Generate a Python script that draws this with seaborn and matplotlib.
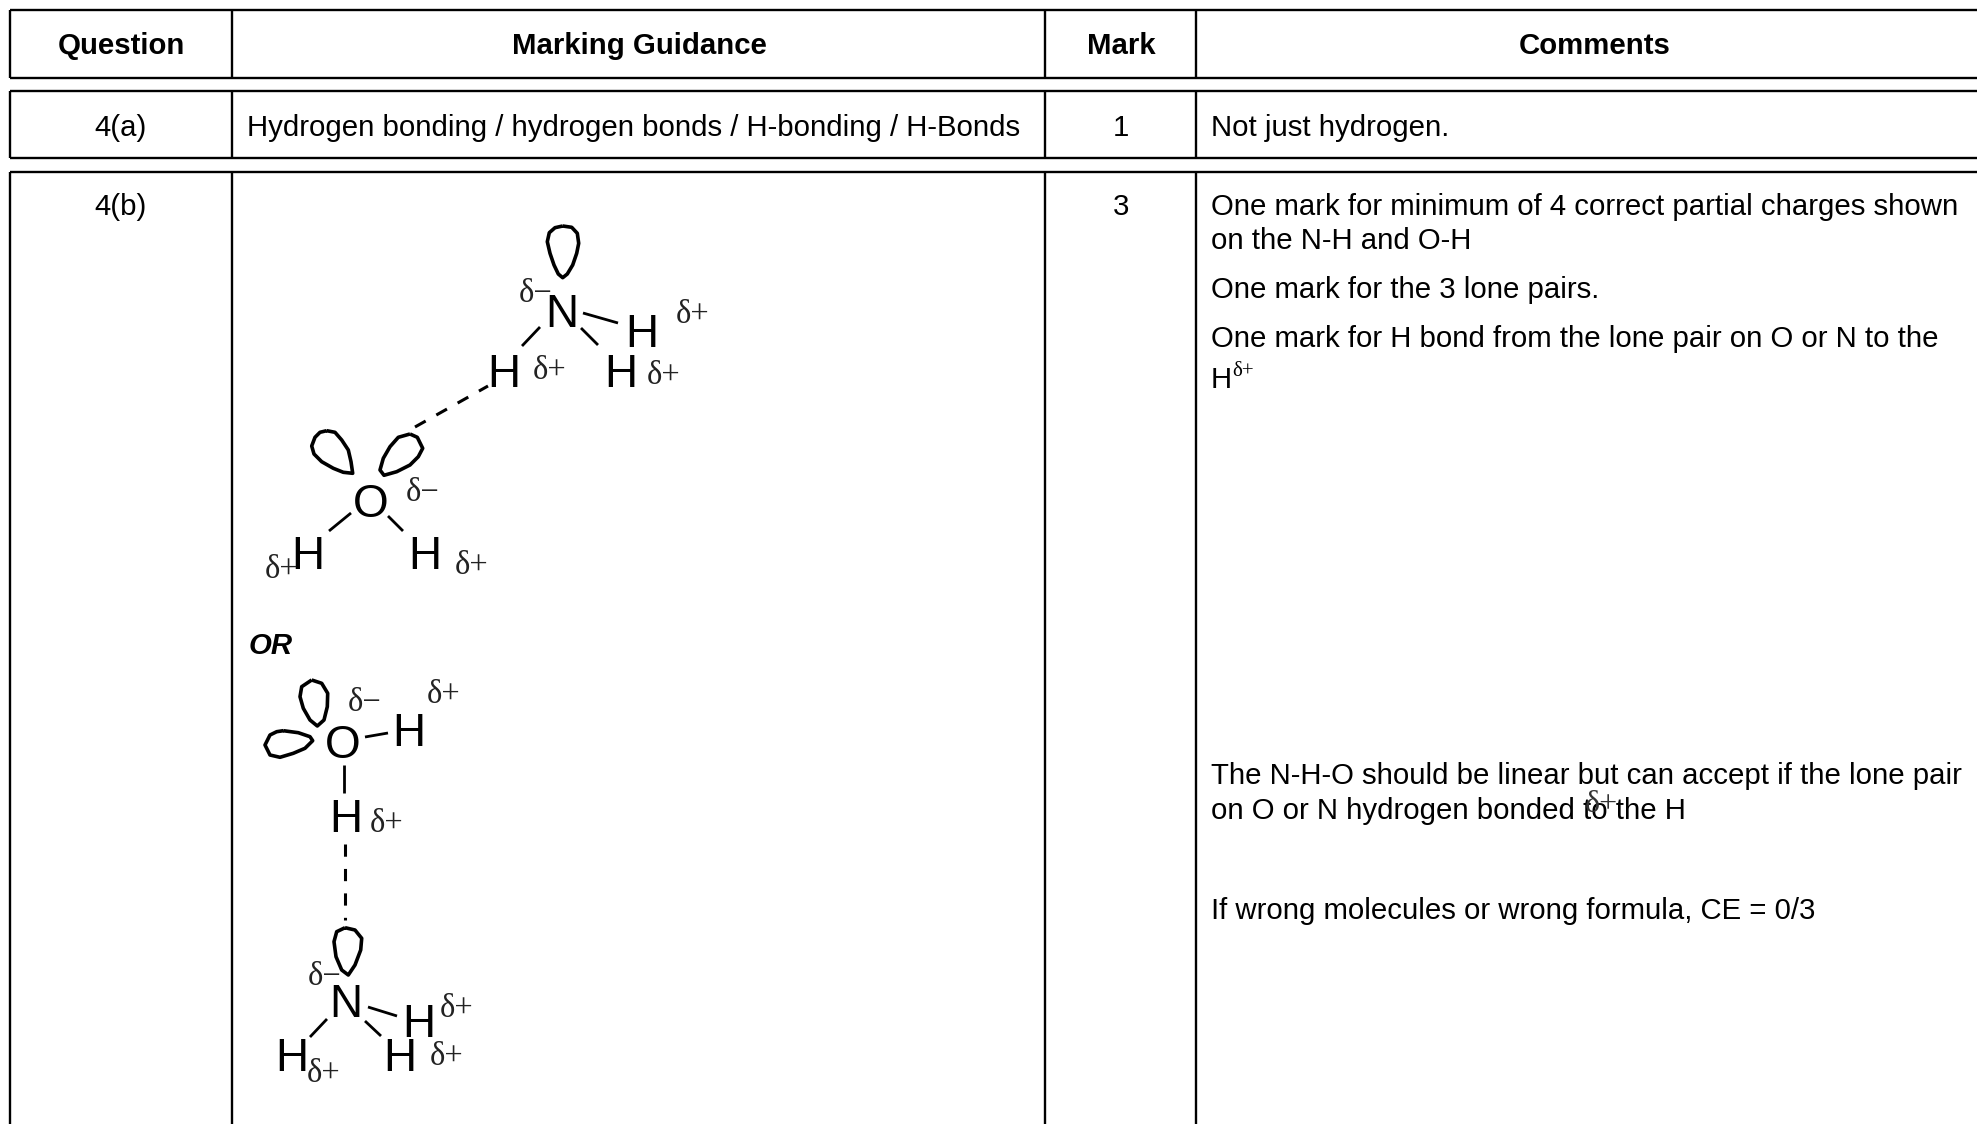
import seaborn as sns
from matplotlib import pyplot as plt

# table rules in image pixels (x0, y0, x1, y1)
table_rules = [
    (10, 10, 1977, 10), (10, 78, 1977, 78),
    (10, 91, 1977, 91), (10, 158, 1977, 158),
    (10, 172, 1977, 172),
    (10, 10, 10, 78), (232, 10, 232, 78), (1045, 10, 1045, 78), (1196, 10, 1196, 78),
    (10, 91, 10, 158), (232, 91, 232, 158), (1045, 91, 1045, 158), (1196, 91, 1196, 158),
    (10, 172, 10, 1124), (232, 172, 232, 1124), (1045, 172, 1045, 1124), (1196, 172, 1196, 1124),
]

headers = ["Question", "Marking Guidance", "Mark", "Comments"]
header_x = [121, 639, 1121, 1595]

comments = [
    ("One mark for minimum of 4 correct partial charges shown", 215),
    ("on the N-H and O-H", 249),
    ("One mark for the 3 lone pairs.", 298),
    ("One mark for H bond from the lone pair on O or N to the", 347),
    ("H", 388),
    ("The N-H-O should be linear but can accept if the lone pair", 784),
    ("on O or N hydrogen bonded to the H", 819),
    ("If wrong molecules or wrong formula, CE = 0/3", 919),
]

# molecule drawing: atoms and partial charges (label, x, baseline y)
atoms = [
    ("N", 562, 327), ("H", 642, 347), ("H", 504, 387), ("H", 621, 387),
    ("O", 371, 517), ("H", 308, 569), ("H", 425, 569),
    ("O", 343, 758), ("H", 409, 746), ("H", 346, 832),
    ("N", 346, 1017), ("H", 419, 1037), ("H", 400, 1071), ("H", 292, 1071),
]
charges = [
    ("δ−", 536, 302), ("δ+", 693, 323), ("δ+", 550, 379), ("δ+", 664, 384),
    ("δ−", 423, 501), ("δ+", 282, 578), ("δ+", 472, 574),
    ("δ−", 365, 711), ("δ+", 444, 703), ("δ+", 387, 832),
    ("δ−", 325, 985), ("δ+", 457, 1017), ("δ+", 447, 1065), ("δ+", 324, 1082),
]

bonds = [
    (522, 346, 540, 327), (583, 313, 618, 323), (581, 328, 598, 345),
    (329, 531, 351, 513), (388, 516, 403, 531),
    (365, 737, 388, 733), (344, 765, 344, 793),
    (310, 1037, 327, 1019), (368, 1007, 397, 1016), (365, 1021, 381, 1036),
]
hbonds = [(415, 427, 488, 386), (345, 844, 345, 920)]

lobes = [
    ([562.7, 571.7, 577.3, 578.7, 576.7, 572.7, 567.3, 562.7, 558.3, 554, 550, 547.3, 549.3, 555, 562.7],
     [226, 227.3, 233.3, 243.3, 253.3, 265, 274, 277.7, 274, 265, 253.3, 241.7, 232.7, 227.7, 226]),
    ([326.7, 335, 341.7, 348.3, 351, 352.7, 343.3, 333.3, 321.7, 314, 311.7, 315, 320, 326.7],
     [430.7, 432.3, 440, 450, 461.7, 473.3, 472.3, 468.3, 461.7, 454, 446, 437.3, 432.3, 430.7]),
    ([410, 417.3, 422.7, 418.3, 410, 396.7, 384, 380, 383.3, 390, 398.3, 410],
     [434, 437.3, 448.3, 456.7, 465, 471.7, 475.3, 470, 458.3, 446.7, 437.3, 434]),
    ([311.7, 321.7, 327.7, 327.3, 324, 317.3, 310, 303.3, 300, 301.7, 311.7],
     [680, 683.3, 693.3, 706.7, 720, 726, 720, 708.3, 696.7, 686.7, 680]),
    ([283.3, 298.3, 310, 312.7, 305, 293.3, 280, 270, 265, 270, 276.7, 283.3],
     [730.7, 732.7, 736.7, 740.7, 748.3, 753.3, 757.3, 755, 745, 735, 731.7, 730.7]),
    ([345, 355, 361.7, 360.7, 355, 348.3, 341.7, 336, 334, 336.7, 345],
     [927.7, 930, 938.3, 950, 965, 975, 970, 956.7, 941.7, 931.7, 927.7]),
]

sns.set_theme(style="white")
plt.rcParams['font.family'] = ['Liberation Sans', 'DejaVu Sans']

fig, ax = plt.subplots(figsize=(19.77, 11.24), dpi=100)
ax.set_position([0, 0, 1, 1])
ax.axis("off")


def seg(x, y, lw=2.0):
    sns.lineplot(x=x, y=y, ax=ax, color="black", linewidth=lw,
                 sort=False, estimator=None, legend=False,
                 solid_joinstyle="round", solid_capstyle="butt")


for x0, y0, x1, y1 in table_rules:
    seg([x0, x1], [y0, y1], lw=1.7)
for x0, y0, x1, y1 in bonds:
    seg([x0, x1], [y0, y1], lw=2.0)
for x0, y0, x1, y1 in hbonds:
    sns.lineplot(x=[x0, x1], y=[y0, y1], ax=ax, color="black", linewidth=2.2,
                 dashes=[(4, 4)], style=[0, 0], sort=False, estimator=None, legend=False)
for xs, ys in lobes:
    seg(xs, ys, lw=2.6)

ax.set_xlim(0, 1977)
ax.set_ylim(1124, 0)

body = 21.2

for label, x in zip(headers, header_x):
    ax.text(x, 54, label, ha="center", va="baseline", fontsize=body, fontweight="bold", color="black")

ax.text(121, 136, "4(a)", ha="center", va="baseline", fontsize=body, color="black")
ax.text(247, 136, "Hydrogen bonding / hydrogen bonds / H-bonding / H-Bonds",
        va="baseline", fontsize=body, color="black")
ax.text(1121, 136, "1", ha="center", va="baseline", fontsize=body, color="black")
ax.text(1211, 136, "Not just hydrogen.", va="baseline", fontsize=body, color="black")
ax.text(121, 215, "4(b)", ha="center", va="baseline", fontsize=body, color="black")
ax.text(1121, 215, "3", ha="center", va="baseline", fontsize=body, color="black")

for line, y in comments:
    ax.text(1211, y, line, va="baseline", fontsize=body, color="black")
ax.text(1232, 376, "δ+", va="baseline", fontsize=15, family="Liberation Serif", color="black")
ax.text(1601, 812, "δ+", ha="center", va="baseline", fontsize=23, family="Liberation Serif", color="#333333")

ax.text(249, 654, "OR", va="baseline", fontsize=body, fontweight="bold", fontstyle="italic", color="black")

for label, x, y in atoms:
    ax.text(x, y, label, ha="center", va="baseline", fontsize=33, color="black")
for label, x, y in charges:
    ax.text(x, y, label, ha="center", va="baseline", fontsize=23.5, family="Liberation Serif", color="#222222")

fig.savefig("out.png", dpi=100)
